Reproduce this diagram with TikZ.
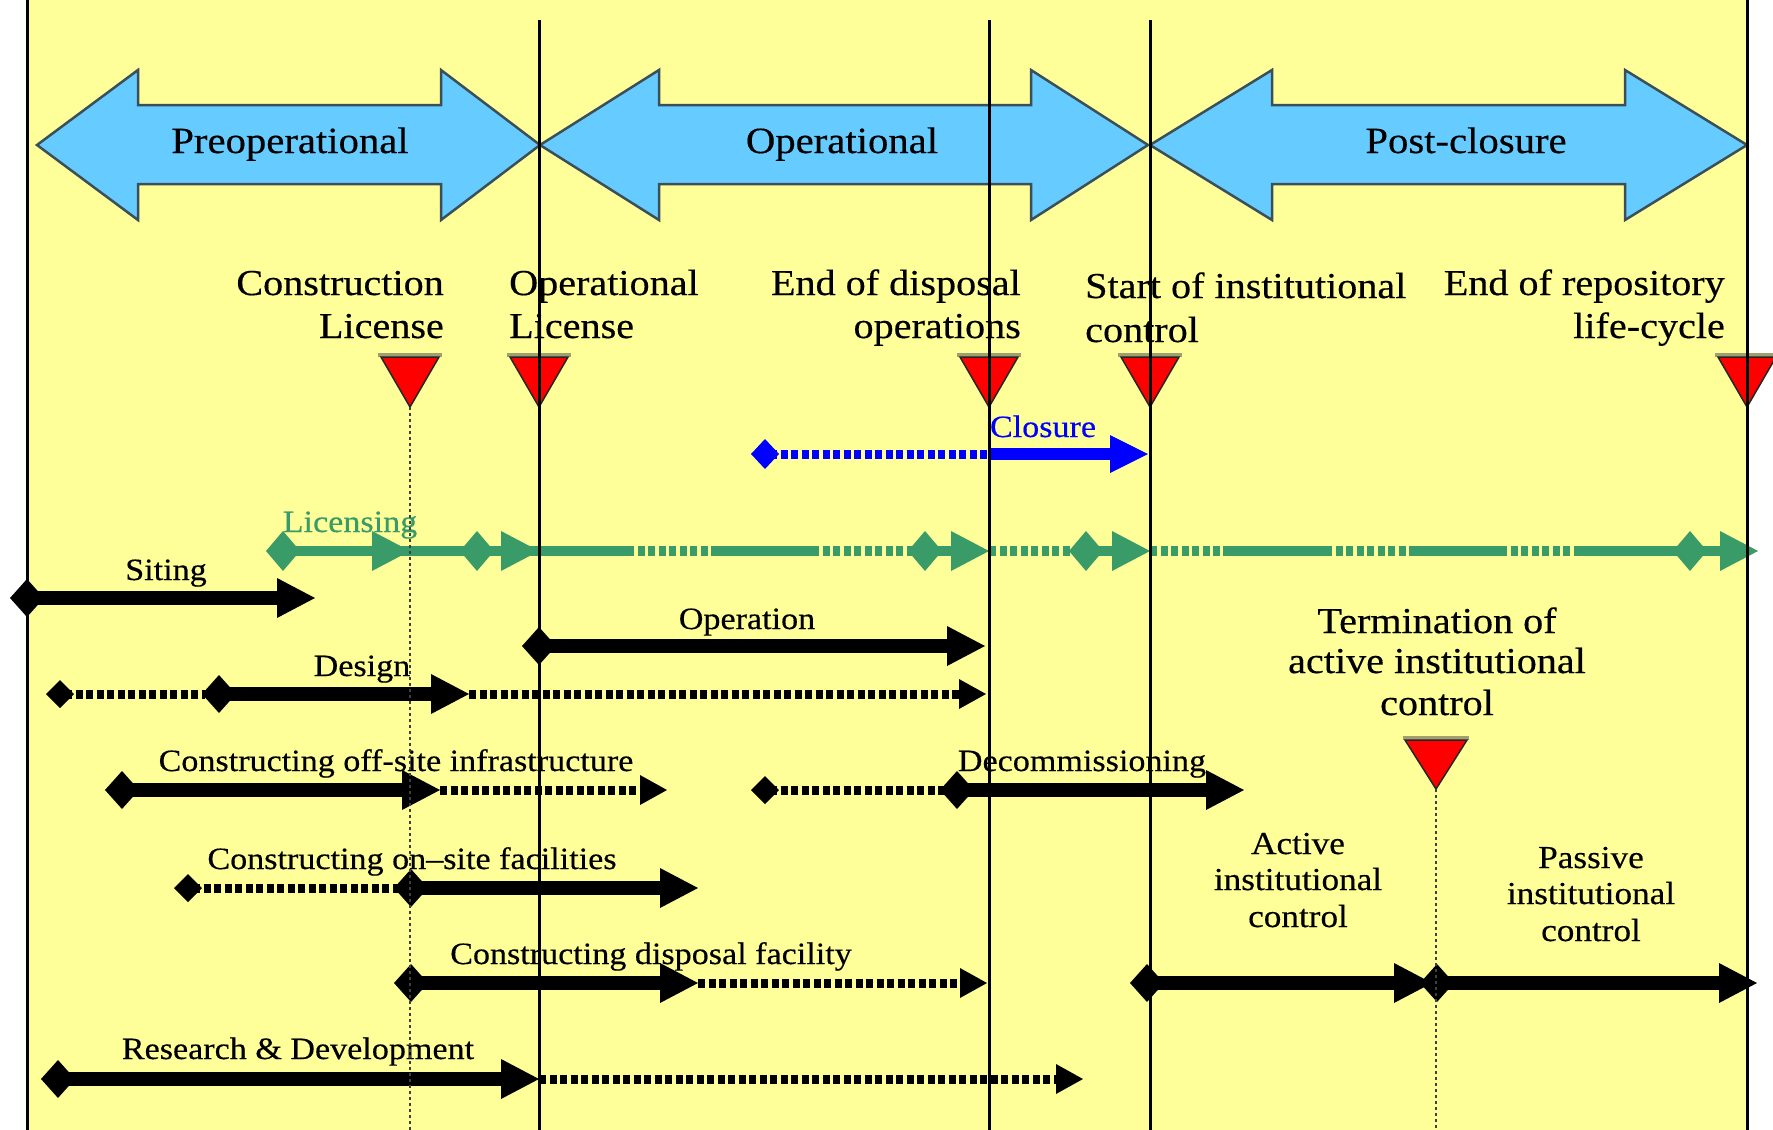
\documentclass[tikz,border=0pt]{standalone}
\usepackage{fontspec}
\setmainfont{Liberation Serif}[FakeStretch=1.1,FakeBold=0.4]
\usetikzlibrary{arrows.meta}
\definecolor{bgyellow}{HTML}{FFFF99}
\definecolor{phaseblue}{HTML}{66CCFF}
\definecolor{phaseedge}{HTML}{3A4F5A}
\definecolor{licgreen}{HTML}{389B68}
\definecolor{closeblue}{HTML}{0000FF}
\definecolor{shadowgray}{HTML}{A09F70}
\tikzset{
  BDia/.tip={Diamond[length=34pt 0 0,width=38pt 0 0,line width=0pt 0 0]},
  BHead/.tip={Triangle[length=38pt 0 0,width=40pt 0 0,line width=0pt 0 0]},
  SDia/.tip={Diamond[length=28pt 0 0,width=28pt 0 0,line width=0pt 0 0]},
  SHead/.tip={Triangle[length=27pt 0 0,width=30pt 0 0,line width=0pt 0 0]},
  GDia/.tip={Diamond[length=34pt 0 0,width=40pt 0 0,line width=0pt 0 0]},
  GHead/.tip={Triangle[length=38pt 0 0,width=40pt 0 0,line width=0pt 0 0]},
  CDia/.tip={Diamond[length=28pt 0 0,width=30pt 0 0,line width=0pt 0 0]},
  CHead/.tip={Triangle[length=38pt 0 0,width=38pt 0 0,line width=0pt 0 0]},
  bigtext/.style={font=\fontsize{37}{44}\selectfont, inner sep=0pt, anchor=base},
  mtext/.style={font=\fontsize{36.5}{44}\selectfont, inner sep=0pt},
  ttext/.style={font=\fontsize{31}{38}\selectfont, inner sep=0pt, anchor=base},
  ctext/.style={font=\fontsize{32}{38}\selectfont, inner sep=0pt, anchor=base},
  phase/.style={fill=phaseblue, draw=phaseedge, line width=2.5pt, line join=miter},
  milestone/.style={fill=red, draw=black!85, line width=1.5pt, line join=miter},
  solidbar/.style={line width=14pt, black},
  dotbar/.style={line width=9pt, black, dash pattern=on 7pt off 3.5pt},
  licsolid/.style={line width=10pt, licgreen},
  licdot/.style={line width=10pt, licgreen, dash pattern=on 7pt off 3.5pt},
  bluesolid/.style={line width=12pt, closeblue},
  bluedot/.style={line width=9pt, closeblue, dash pattern=on 7pt off 3.5pt},
  phaseline/.style={line width=3pt, black},
  guideline/.style={line width=2pt, black!75, dash pattern=on 3pt off 3pt},
}
\begin{document}
\begin{tikzpicture}[x=1pt,y=-1pt]
\useasboundingbox (0,0) rectangle (1773,1130);
\clip (0,0) rectangle (1773,1130);
\fill[white] (0,0) rectangle (1773,1130);
\fill[bgyellow] (27,0) rectangle (1747,1130);

% phase arrows
\draw[phase] (37,145) -- (138,70) -- (138,105) -- (441,105) -- (441,70) -- (540,145) -- (441,220) -- (441,184) -- (138,184) -- (138,220) -- cycle;
\draw[phase] (540,145) -- (659,70) -- (659,105) -- (1031,105) -- (1031,70) -- (1148,145) -- (1031,220) -- (1031,184) -- (659,184) -- (659,220) -- cycle;
\draw[phase] (1150,145) -- (1272,70) -- (1272,105) -- (1625,105) -- (1625,70) -- (1747,145) -- (1625,220) -- (1625,184) -- (1272,184) -- (1272,220) -- cycle;
\node[bigtext] (preop) at (290,153) {Preoperational};
\node[bigtext] (oper) at (842,153) {Operational};
\node[bigtext] (post) at (1466,153) {Post-closure};

% milestone labels
\node[mtext, anchor=base east] (cl1) at (444,295) {Construction};
\node[mtext, anchor=base east] (cl2) at (444,338) {License};
\node[mtext, anchor=base west] (ol1) at (509,295) {Operational};
\node[mtext, anchor=base west] (ol2) at (509,338) {License};
\node[mtext, anchor=base east] (ed1) at (1021,295) {End of disposal};
\node[mtext, anchor=base east] (ed2) at (1021,338) {operations};
\node[mtext, anchor=base west] (si1) at (1085,298) {Start of institutional};
\node[mtext, anchor=base west] (si2) at (1085,342) {control};
\node[mtext, anchor=base east] (er1) at (1725,295) {End of repository};
\node[mtext, anchor=base east] (er2) at (1725,338) {life-cycle};
\node[mtext, anchor=base] (tm1) at (1437,633) {Termination of};
\node[mtext, anchor=base] (tm2) at (1437,673) {active institutional};
\node[mtext, anchor=base] (tm3) at (1437,715) {control};
\node[ctext] (ac1) at (1298,854) {Active};
\node[ctext] (ac2) at (1298,890) {institutional};
\node[ctext] (ac3) at (1298,927) {control};
\node[ctext] (pa1) at (1591,868) {Passive};
\node[ctext] (pa2) at (1591,904) {institutional};
\node[ctext] (pa3) at (1591,941) {control};

% milestone triangles
\foreach \mx in {410,539,989,1150,1747} {
  \draw[shadowgray, line width=4pt] (\mx-32,355) -- (\mx+32,355);
  \draw[milestone] (\mx-29,357) -- (\mx+29,357) -- (\mx,407) -- cycle;
}
\draw[shadowgray, line width=4pt] (1436-33,738) -- (1436+33,738);
\draw[milestone] (1436-31,740) -- (1436+31,740) -- (1436,789) -- cycle;

% closure
\node[ttext, text=closeblue] (closure) at (1043,437) {Closure};
\draw[bluedot, CDia-] (751,454) -- (989,454);
\draw[bluesolid, -CHead] (989,454) -- (1148,454);

% licensing
\node[ttext, text=licgreen] (licensing) at (350,532) {Licensing};
\draw[licsolid] (283,551) -- (627,551);
\draw[licdot] (627,551) -- (711,551);
\draw[licsolid] (711,551) -- (812,551);
\draw[licdot] (812,551) -- (925,551);
\draw[licdot] (989,551) -- (1086,551);
\draw[licdot] (1150,551) -- (1223,551);
\draw[licsolid] (1223,551) -- (1325,551);
\draw[licdot] (1325,551) -- (1416,551);
\draw[licsolid] (1416,551) -- (1500,551);
\draw[licdot] (1500,551) -- (1579,551);
\draw[licsolid] (1579,551) -- (1690,551);
\draw[licsolid, GDia-GHead] (266,551) -- (410,551);
\draw[licsolid, GDia-GHead] (460,551) -- (539,551);
\draw[licsolid, GDia-GHead] (908,551) -- (989,551);
\draw[licsolid, GDia-GHead] (1069,551) -- (1150,551);
\draw[licsolid, GDia-GHead] (1673,551) -- (1758,551);

% task labels
\node[ttext] (siting) at (166,580) {Siting};
\node[ttext] (operation) at (747,629) {Operation};
\node[ttext] (design) at (362,676) {Design};
\node[ttext] (offsite) at (396,771) {Constructing off-site infrastructure};
\node[ttext] (decom) at (1082,771) {Decommissioning};
\node[ttext] (onsite) at (412,869) {Constructing on--site facilities};
\node[ttext] (disposal) at (651,964) {Constructing disposal facility};
\node[ttext] (rnd) at (298,1059) {Research \& Development};

% task bars
\draw[solidbar, BDia-BHead] (10,598) -- (315,598);
\draw[solidbar, BDia-BHead] (522,646) -- (985,646);
\draw[dotbar, SDia-] (46,694) -- (205,694);
\draw[dotbar, -SHead] (469,694) -- (986,694);
\draw[solidbar, BDia-BHead] (202,694) -- (469,694);
\draw[dotbar, -SHead] (440,790) -- (667,790);
\draw[solidbar, BDia-BHead] (105,790) -- (440,790);
\draw[dotbar, SDia-] (751,790) -- (945,790);
\draw[solidbar, BDia-BHead] (940,790) -- (1244,790);
\draw[dotbar, SDia-] (174,888) -- (400,888);
\draw[solidbar, BDia-BHead] (394,888) -- (698,888);
\draw[dotbar, -SHead] (698,983) -- (987,983);
\draw[solidbar, BDia-BHead] (394,983) -- (698,983);
\draw[solidbar, BDia-BHead] (1130,983) -- (1432,983);
\draw[solidbar, BDia-BHead] (1420,983) -- (1757,983);
\draw[dotbar, -SHead] (539,1079) -- (1083,1079);
\draw[solidbar, BDia-BHead] (41,1079) -- (539,1079);

% vertical lines
\draw[guideline] (410,407) -- (410,1130);
\draw[guideline] (1436,789) -- (1436,1130);
\draw[phaseline] (27,0) -- (27,1130);
\draw[phaseline] (1747,0) -- (1747,1130);
\draw[phaseline] (539,20) -- (539,1130);
\draw[phaseline] (989,20) -- (989,1130);
\draw[phaseline] (1150,20) -- (1150,1130);
\end{tikzpicture}
\end{document}
